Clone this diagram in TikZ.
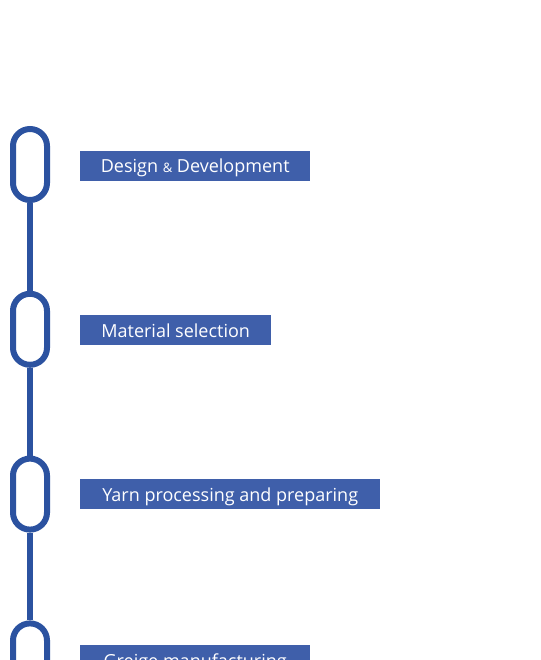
\documentclass[tikz,border=0pt]{standalone}
\usepackage{fontspec}
\setmainfont{Open Sans}
\usepackage{tikz}
\usetikzlibrary{positioning}
\definecolor{ringblue}{HTML}{2B52A0}
\definecolor{boxblue}{HTML}{3F5FAA}
\tikzset{
  ring/.style={draw=ringblue,line width=6pt,minimum width=34pt,minimum height=71pt,rounded corners=17pt,inner sep=0pt},
  link/.style={draw=ringblue,line width=6pt},
  stage/.style={fill=boxblue,text=white,font=\fontsize{18}{21}\selectfont,minimum height=30pt,text height=17pt,text depth=3pt,inner sep=0pt,anchor=west}
}
\begin{document}
\begin{tikzpicture}[x=1pt,y=-1pt]
\useasboundingbox (0,0) rectangle (540,660);
\clip (0,0) rectangle (540,660);
\foreach \k/\y/\txt/\w in {1/166/{Design {\fontsize{13}{16}\selectfont\&} Development}/230,2/330/Material selection/191,3/494/Yarn processing and preparing/300,4/660/Greige manufacturing/230}{
  \node[ring] (r\k) at (30,{164.5+164.8*(\k-1)}) {};
  \node[stage,minimum width=\w pt] (s\k) at (80,\y) {\txt};
}
\foreach \a/\b in {1/2,2/3,3/4}
  \draw[link] (r\a.south) -- (r\b.north);
\end{tikzpicture}
\end{document}
